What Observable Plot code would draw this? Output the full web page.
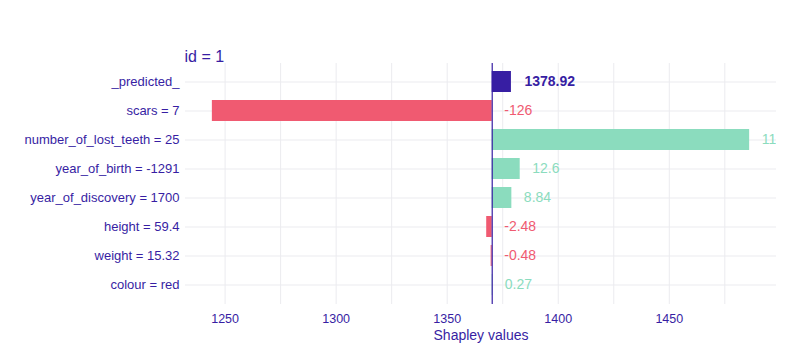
<!DOCTYPE html>
<html>
<head>
<meta charset="utf-8">
<script src="https://cdn.jsdelivr.net/npm/d3@7"></script>
<script src="https://cdn.jsdelivr.net/npm/@observablehq/plot@0.6"></script>
<style>
  html, body { margin: 0; padding: 0; background: #fff; }
  svg { font-family: "Liberation Sans", Arial, sans-serif; }
</style>
</head>
<body>
<div id="chart"></div>
<script>
// ---- data ----
const title = "id = 1";
const xLabel = "Shapley values";
const intercept = 1370.27;
const predictedLabel = "_predicted_";
const predictedValue = 1378.92;
const features = ["scars = 7", "number_of_lost_teeth = 25", "year_of_birth = -1291",
  "year_of_discovery = 1700", "height = 59.4", "weight = 15.32", "colour = red"];
const contributions = [-126, 115.9, 12.6, 8.84, -2.48, -0.48, 0.27];
const majorTicks = [1250, 1300, 1350, 1400, 1450];
const minorTicks = [1225, 1275, 1325, 1375, 1425, 1475];

// ---- build rows ----
const fmt = d3.formatLocale({decimal: ".", thousands: ",", grouping: [3], currency: ["", ""], minus: "-"}).format(".3~r");
const rows = [{name: predictedLabel, x1: intercept, x2: predictedValue, kind: "pred",
  label: predictedValue.toFixed(2), lx: Math.max(intercept, predictedValue)}];
features.forEach((f, i) => {
  const v = contributions[i];
  rows.push({name: f, x1: intercept, x2: intercept + v, kind: v < 0 ? "neg" : "pos",
    label: fmt(v), lx: Math.max(intercept, intercept + v)});
});
const order = rows.map(d => d.name);
const lo = d3.min(rows, d => Math.min(d.x1, d.x2));
const hi = d3.max(rows, d => Math.max(d.x1, d.x2));
const pad = (hi - lo) * 0.05;
const domain = [lo - pad, hi + pad];

const colors = {pred: "#371ea3", neg: "#f05a71", pos: "#8bdcbe"};
const textColor = "#371ea3";
const gridColor = "#ebebef";

const chart = Plot.plot({
  width: 800,
  height: 350,
  marginLeft: 185,
  marginRight: 24,
  marginTop: 63,
  marginBottom: 46,
  style: {fontFamily: "'Liberation Sans', Arial, sans-serif", background: "#fff"},
  x: {domain, label: null},
  y: {domain: order, paddingInner: 0.26, paddingOuter: 0.2, label: null},
  marks: [
    Plot.ruleX(minorTicks.filter(t => t > domain[0] && t < domain[1]), {stroke: gridColor, strokeWidth: 1}),
    Plot.ruleX(majorTicks.filter(t => t > domain[0] && t < domain[1]), {stroke: gridColor, strokeWidth: 1}),
    Plot.ruleY(order, {y: d => d, stroke: gridColor, strokeWidth: 1}),
    Plot.barX(rows, {y: "name", x1: "x1", x2: "x2", fill: d => colors[d.kind]}),
    Plot.ruleX([intercept], {stroke: "#371ea3", strokeWidth: 1.2}),
    Plot.text(rows.filter(d => d.kind !== "pred"), {
      y: "name", x: "lx", text: "label", textAnchor: "start", dx: 12,
      fill: d => colors[d.kind], fontSize: 14, clip: true
    }),
    Plot.text(rows.filter(d => d.kind === "pred"), {
      y: "name", x: "lx", text: "label", textAnchor: "start", dx: 13,
      fill: colors.pred, fontSize: 14, fontWeight: "bold", clip: true
    }),
    Plot.axisY({tickSize: 0, tickPadding: 6, fontSize: 13, color: textColor, label: null}),
    Plot.axisX(majorTicks, {tickSize: 0, tickPadding: 10, fontSize: 12.5, color: textColor, label: null, tickFormat: d => String(d)}),
    Plot.text([xLabel], {frameAnchor: "bottom", dy: 31, lineAnchor: "middle", fontSize: 14, fill: textColor}),
    Plot.text([title], {frameAnchor: "top-left", dx: -1, dy: -7, lineAnchor: "middle", textAnchor: "start", fontSize: 16, fill: textColor})
  ]
});
document.getElementById("chart").appendChild(chart);
</script>
</body>
</html>
